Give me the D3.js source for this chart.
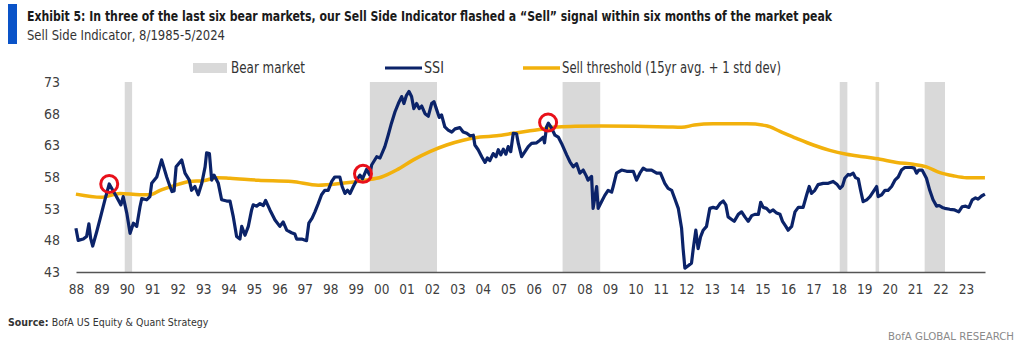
<!DOCTYPE html>
<html>
<head>
<meta charset="utf-8">
<script src="https://cdn.jsdelivr.net/npm/d3@7"></script>
<style>
  body { margin: 0; background: #fff; }
  svg text { font-family: 'Liberation Sans Narrow', 'DejaVu Sans Condensed', sans-serif; }
</style>
</head>
<body>
<div id="chart"></div>
<script>
// data (decimal years, index value)
var ssiDates = [1988.58, 1988.67, 1988.87, 1989.00, 1989.09, 1989.16, 1989.24, 1989.40, 1989.55, 1989.72,
  1989.89, 1990.03, 1990.16, 1990.35, 1990.44, 1990.58, 1990.71, 1990.84, 1990.97, 1991.10,
  1991.17, 1991.36, 1991.49, 1991.56, 1991.76, 1991.95, 1992.15, 1992.28, 1992.36, 1992.44,
  1992.52, 1992.74, 1992.87, 1993.04, 1993.13, 1993.26, 1993.39, 1993.53, 1993.66, 1993.72,
  1993.83, 1993.92, 1994.01, 1994.18, 1994.31, 1994.51, 1994.64, 1994.77, 1994.90, 1995.03,
  1995.10, 1995.23, 1995.36, 1995.49, 1995.55, 1995.69, 1995.82, 1995.95, 1996.04, 1996.21,
  1996.41, 1996.60, 1996.73, 1996.87, 1997.06, 1997.19, 1997.26, 1997.46, 1997.65, 1997.74,
  1997.87, 1997.98, 1998.11, 1998.24, 1998.37, 1998.50, 1998.64, 1998.76, 1998.96, 1999.05,
  1999.16, 1999.26, 1999.36, 1999.49, 1999.62, 1999.75, 1999.85, 2000.01, 2000.14, 2000.21,
  2000.41, 2000.54, 2000.73, 2000.86, 2000.99, 2001.13, 2001.26, 2001.39, 2001.48, 2001.58,
  2001.68, 2001.78, 2001.87, 2001.98, 2002.08, 2002.18, 2002.31, 2002.44, 2002.57, 2002.66,
  2002.77, 2002.87, 2002.96, 2003.09, 2003.22, 2003.36, 2003.49, 2003.68, 2003.81, 2003.95,
  2004.08, 2004.21, 2004.27, 2004.40, 2004.54, 2004.67, 2004.76, 2004.86, 2004.99, 2005.10,
  2005.19, 2005.29, 2005.39, 2005.49, 2005.58, 2005.68, 2005.78, 2005.91, 2005.98, 2006.11,
  2006.24, 2006.37, 2006.50, 2006.70, 2006.83, 2006.96, 2007.01, 2007.09, 2007.16, 2007.29,
  2007.42, 2007.55, 2007.68, 2007.88, 2008.01, 2008.14, 2008.27, 2008.40, 2008.53, 2008.66,
  2008.72, 2008.86, 2008.92, 2009.06, 2009.12, 2009.25, 2009.38, 2009.51, 2009.65, 2009.71,
  2009.84, 2010.04, 2010.24, 2010.50, 2010.63, 2010.76, 2010.89, 2011.02, 2011.22, 2011.42,
  2011.57, 2011.74, 2011.87, 2012.01, 2012.13, 2012.27, 2012.40, 2012.46, 2012.53, 2012.66,
  2012.79, 2012.86, 2012.96, 2013.05, 2013.15, 2013.25, 2013.38, 2013.51, 2013.64, 2013.78,
  2013.91, 2014.04, 2014.14, 2014.23, 2014.37, 2014.47, 2014.63, 2014.76, 2014.89, 2015.02,
  2015.16, 2015.28, 2015.42, 2015.51, 2015.61, 2015.74, 2015.87, 2016.00, 2016.14, 2016.27,
  2016.37, 2016.50, 2016.59, 2016.73, 2016.86, 2016.99, 2017.18, 2017.32, 2017.42, 2017.51,
  2017.64, 2017.77, 2017.97, 2018.17, 2018.36, 2018.52, 2018.63, 2018.73, 2018.82, 2018.95,
  2019.02, 2019.15, 2019.24, 2019.35, 2019.44, 2019.54, 2019.68, 2019.81, 2019.94, 2020.07,
  2020.13, 2020.27, 2020.40, 2020.52, 2020.66, 2020.79, 2020.92, 2021.05, 2021.18, 2021.31,
  2021.45, 2021.55, 2021.64, 2021.73, 2021.86, 2022.03, 2022.16, 2022.29, 2022.43, 2022.53,
  2022.65, 2022.75, 2022.95, 2023.14, 2023.30, 2023.43, 2023.57, 2023.70, 2023.83, 2023.96,
  2024.06, 2024.20, 2024.33];
var ssiValues = [49.9, 48.0, 48.2, 48.6, 50.6, 48.3, 47.1, 49.4, 51.7, 54.4,
  56.9, 55.9, 55.0, 53.6, 54.9, 52.3, 49.1, 50.7, 50.2, 53.3,
  54.6, 54.4, 54.9, 57.0, 58.0, 60.7, 58.0, 56.5, 55.7, 55.8,
  59.6, 60.7, 58.6, 57.5, 55.9, 56.5, 55.2, 57.0, 59.6, 61.8,
  61.7, 57.5, 58.3, 57.0, 54.4, 54.2, 54.2, 51.7, 48.6, 48.2,
  50.2, 48.8, 50.2, 52.8, 53.6, 53.4, 53.8, 53.5, 54.3, 52.8,
  51.2, 50.2, 50.9, 49.6, 49.2, 49.0, 48.2, 48.2, 47.95, 50.7,
  51.5, 52.5, 53.8, 55.2, 55.9, 55.9, 57.3, 58.0, 58.0, 56.5,
  55.4, 55.9, 55.4, 56.5, 57.5, 58.3, 57.7, 59.2, 58.3, 59.9,
  61.2, 61.0, 62.8, 64.6, 66.5, 68.3, 69.6, 70.7, 69.6, 70.9,
  71.5, 70.7, 68.8, 69.6, 68.8, 69.2, 68.0, 67.6, 69.6, 69.9,
  68.6, 67.4, 67.8, 65.9, 65.4, 65.1, 65.6, 65.8, 65.1, 64.9,
  64.5, 64.6, 63.05, 62.3, 61.2, 60.3, 61.0, 60.6, 61.7, 61.2,
  62.3, 61.5, 62.4, 61.6, 62.8, 62.0, 64.9, 64.8, 63.3, 61.2,
  62.0, 62.8, 63.3, 63.4, 63.8, 64.3, 63.4, 65.9, 66.5, 65.7,
  64.6, 64.3, 63.3, 61.5, 60.4, 59.6, 60.1, 58.6, 59.1, 58.1,
  57.5, 58.1, 53.05, 56.5, 53.05, 54.1, 55.1, 55.9, 55.6, 56.5,
  58.6, 59.1, 58.9, 58.9, 57.5, 58.6, 59.4, 59.1, 59.1, 58.6,
  58.6, 57.0, 56.2, 55.9, 54.6, 53.05, 49.9, 46.7, 43.6, 44.0,
  44.4, 46.7, 49.6, 46.7, 48.6, 49.6, 50.2, 53.05, 53.2, 53.05,
  53.8, 54.2, 53.6, 51.7, 51.3, 51.0, 52.1, 52.5, 51.7, 51.0,
  51.9, 52.1, 52.1, 54.0, 53.2, 53.05, 52.5, 52.8, 52.3, 52.1,
  51.0, 50.2, 49.6, 50.2, 52.5, 53.2, 53.2, 55.2, 56.5, 55.4,
  55.9, 56.8, 57.0, 57.0, 57.3, 56.8, 56.2, 56.6, 57.8, 58.4,
  58.3, 58.6, 57.9, 57.7, 55.9, 54.1, 54.4, 54.9, 55.7, 56.5,
  54.9, 55.2, 55.9, 55.9, 56.5, 57.5, 58.0, 59.1, 59.5, 59.5,
  59.5, 59.4, 58.6, 59.1, 59.1, 57.8, 55.9, 54.4, 53.4, 53.5,
  53.2, 53.05, 52.9, 52.8, 52.5, 53.3, 53.4, 53.2, 54.4, 54.7,
  54.5, 55.0, 55.3];

var threshDates = [1988.58, 1989.59, 1990.31, 1991.10, 1991.49, 1991.89, 1992.41, 1993.07, 1993.59, 1994.12,
  1994.64, 1995.75, 1997.07, 1998.11, 1999.03, 1999.95, 2000.60, 2001.19, 2001.85, 2002.50,
  2003.16, 2003.81, 2004.47, 2005.13, 2005.78, 2006.44, 2006.80, 2007.42, 2008.21, 2009.24,
  2010.56, 2011.87, 2012.40, 2012.90, 2013.64, 2014.96, 2015.74, 2016.27, 2016.92, 2017.58,
  2018.23, 2018.89, 2019.54, 2020.20, 2020.86, 2021.51, 2022.03, 2022.56, 2023.08, 2023.61,
  2024.33];
var threshValues = [55.3, 54.8, 55.4, 55.2, 55.2, 55.9, 56.6, 57.3, 57.4, 57.9,
  57.8, 57.5, 57.3, 56.7, 57.0, 57.5, 58.0, 59.1, 60.7, 62.0,
  63.05, 63.8, 64.3, 64.5, 64.9, 65.3, 65.5, 65.9, 66.0, 66.05,
  66.0, 65.9, 65.85, 66.2, 66.4, 66.4, 66.1, 65.2, 64.1, 63.05,
  62.2, 61.6, 61.2, 60.8, 60.3, 60.0, 59.6, 58.7, 58.2, 57.9,
  57.9];

// bear market spans
var bearStart = [1990.50, 2000.14, 2007.72, 2018.62, 2020.03, 2021.96];
var bearEnd   = [1990.79, 2002.78, 2009.20, 2018.92, 2020.17, 2022.76];

// sell signals (red circles)
var signalDates  = [1989.89, 1999.87, 2007.15];
var signalValues = [56.9, 58.5, 66.6];

var yTicks = [43, 48, 53, 58, 63, 68, 73];
var xLabels = ['88','89','90','91','92','93','94','95','96','97','98','99','00','01','02','03','04','05',
  '06','07','08','09','10','11','12','13','14','15','16','17','18','19','20','21','22','23'];

var navy = '#0b2369', gold = '#f2b10c', grey = '#d9d9d9', red = '#e8101a';
var font = "'Liberation Sans Narrow', 'DejaVu Sans Condensed', sans-serif";

var W = 1024, H = 351;
var svg = d3.select('#chart').append('svg').attr('width', W).attr('height', H);

var x = d3.scaleLinear().domain([1988.583, 2024.333]).range([76, 985]);
var y = d3.scaleLinear().domain([43, 73]).range([272, 82]);

// title block
svg.append('rect').attr('x', 8).attr('y', 4).attr('width', 9).attr('height', 40).attr('fill', '#0a53c8');
svg.append('text').attr('x', 27).attr('y', 21).attr('font-size', 14).attr('font-weight', 'bold').attr('fill', '#1a1a1a')
  .attr('textLength', 805).attr('lengthAdjust', 'spacingAndGlyphs')
  .text('Exhibit 5: In three of the last six bear markets, our Sell Side Indicator flashed a \u201cSell\u201d signal within six months of the market peak');
svg.append('text').attr('x', 27).attr('y', 40).attr('font-size', 13.5).attr('fill', '#333')
  .attr('textLength', 198).attr('lengthAdjust', 'spacingAndGlyphs')
  .text('Sell Side Indicator, 8/1985-5/2024');

// bear market shading
svg.append('g').selectAll('rect').data(bearStart).join('rect')
  .attr('x', function (d) { return x(d); })
  .attr('width', function (d, i) { return x(bearEnd[i]) - x(d); })
  .attr('y', y(73)).attr('height', y(43) - y(73))
  .attr('fill', grey);

// axes
var yAxis = svg.append('g').attr('transform', 'translate(62,0)')
  .call(d3.axisLeft(y).tickValues(yTicks).tickSize(0).tickPadding(2));
yAxis.select('.domain').remove();
yAxis.selectAll('text').attr('font-size', 14).attr('fill', '#404040').style('font-family', font);

var xAxis = svg.append('g').attr('transform', 'translate(0,' + y(43) + ')')
  .call(d3.axisBottom(x).tickValues(d3.range(xLabels.length).map(function (i) { return 1988.583 + i; }))
    .tickFormat(function (d, i) { return xLabels[i]; }).tickSize(0).tickPadding(12));
xAxis.select('.domain').attr('stroke', '#555').attr('stroke-width', 1.5);
xAxis.selectAll('text').attr('font-size', 13.5).attr('fill', '#404040').style('font-family', font);

// lines
var ssi = ssiDates.map(function (d, i) { return [d, ssiValues[i]]; });
var thr = threshDates.map(function (d, i) { return [d, threshValues[i]]; });
var line = d3.line().x(function (d) { return x(d[0]); }).y(function (d) { return y(d[1]); });

svg.append('path').datum(thr).attr('fill', 'none').attr('stroke', gold).attr('stroke-width', 3.5)
  .attr('d', line.curve(d3.curveMonotoneX));
svg.append('path').datum(ssi).attr('fill', 'none').attr('stroke', navy).attr('stroke-width', 3.2)
  .attr('stroke-linejoin', 'round')
  .attr('d', line.curve(d3.curveLinear));

// sell signal circles
svg.append('g').selectAll('circle').data(signalDates).join('circle')
  .attr('cx', function (d) { return x(d); })
  .attr('cy', function (d, i) { return y(signalValues[i]); })
  .attr('r', 8.5).attr('fill', 'none').attr('stroke', red).attr('stroke-width', 3);

// legend
var lg = svg.append('g').attr('font-size', 15).attr('fill', '#333');
lg.append('rect').attr('x', 193).attr('y', 63).attr('width', 34).attr('height', 10).attr('fill', grey);
lg.append('text').attr('x', 231).attr('y', 73).attr('textLength', 74).attr('lengthAdjust', 'spacingAndGlyphs').text('Bear market');
lg.append('line').attr('x1', 385).attr('x2', 422).attr('y1', 68).attr('y2', 68).attr('stroke', navy).attr('stroke-width', 3);
lg.append('text').attr('x', 424).attr('y', 73).attr('textLength', 20).attr('lengthAdjust', 'spacingAndGlyphs').text('SSI');
lg.append('line').attr('x1', 523).attr('x2', 560).attr('y1', 68).attr('y2', 68).attr('stroke', gold).attr('stroke-width', 3.5);
lg.append('text').attr('x', 562).attr('y', 73).attr('textLength', 219).attr('lengthAdjust', 'spacingAndGlyphs')
  .text('Sell threshold (15yr avg. + 1 std dev)');

// footer
var src = svg.append('text').attr('x', 8).attr('y', 326).attr('font-size', 10.5).attr('fill', '#333');
src.append('tspan').attr('font-weight', 'bold').text('Source: ');
src.append('tspan').text('BofA US Equity & Quant Strategy');
svg.append('text').attr('x', 1014).attr('y', 340).attr('text-anchor', 'end').attr('font-size', 10.5)
  .attr('fill', '#8a8a8a').attr('textLength', 126).attr('lengthAdjust', 'spacingAndGlyphs').text('BofA GLOBAL RESEARCH');
</script>
</body>
</html>
